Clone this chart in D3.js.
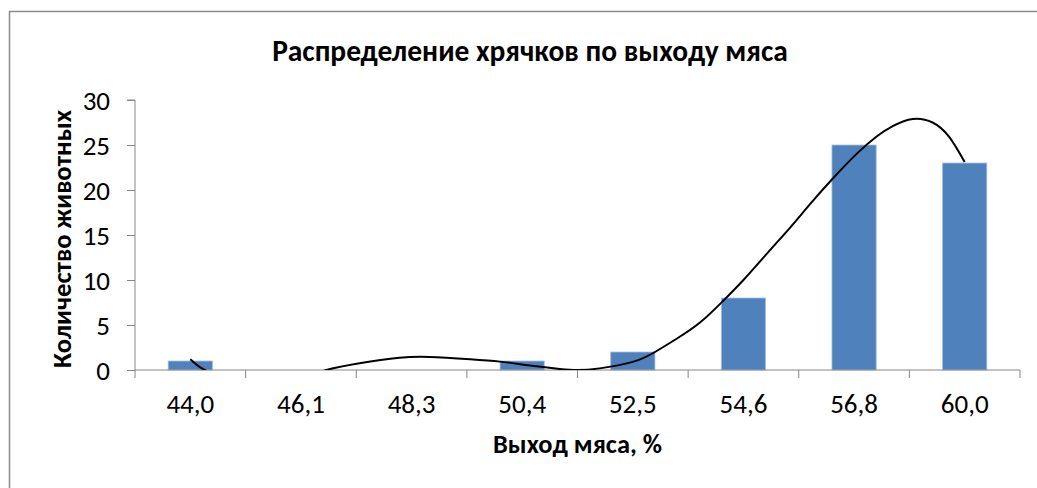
<!DOCTYPE html>
<html>
<head>
<meta charset="utf-8">
<script src="https://cdn.jsdelivr.net/npm/d3@7"></script>
<style>
  body { margin: 0; background: #fff; }
  text { font-family: Carlito, Lato, sans-serif; fill: #000; }
</style>
</head>
<body>
<div id="chart"></div>
<script>
// data
const categories = ["44,0", "46,1", "48,3", "50,4", "52,5", "54,6", "56,8", "60,0"];
const counts = [1, 0, 0, 1, 2, 8, 25, 23];
const yTicks = [0, 5, 10, 15, 20, 25, 30];

// trendline (position in category index 1..8, value)
const trendPos = [1.00, 1.13, 1.35, 1.70, 2.10, 2.23, 2.53, 2.89, 3.16, 3.53, 3.80, 4.07, 4.34, 4.50,
  4.70, 5.00, 5.20, 5.40, 5.61, 5.81, 6.00, 6.21, 6.42, 6.60, 6.81, 7.03, 7.21, 7.35, 7.53, 7.71, 7.86, 8.00];
const trendVal = [1.2, 0, -0.8, -1.1, -0.5, 0, 0.74, 1.35, 1.45, 1.2, 0.93, 0.5, 0.12, 0.0,
  0.18, 0.9, 2.0, 3.5, 5.3, 7.6, 10.0, 12.9, 15.8, 18.4, 21.3, 24.1, 26.0, 27.1, 27.9, 27.5, 25.9, 23.1];

const width = 1037;
const height = 488;
const plot = { left: 135, right: 1020, top: 100, bottom: 370 };
const axisColor = "#868686";

const svg = d3.select('#chart')
  .append('svg')
  .attr('width', width)
  .attr('height', height);

svg.append('rect')
  .attr('width', width).attr('height', height)
  .attr('fill', '#fff');

// chart area border (cropped on the right and bottom)
svg.append('rect')
  .attr('x', 9.5).attr('y', 11.5)
  .attr('width', 1100).attr('height', 600)
  .attr('fill', 'none')
  .attr('stroke', '#8c8c8c')
  .attr('stroke-width', 1.5);

const x = d3.scaleBand()
  .domain(categories)
  .range([plot.left, plot.right])
  .paddingInner(0)
  .paddingOuter(0);

const y = d3.scaleLinear()
  .domain([0, 30])
  .range([plot.bottom, plot.top]);

const barW = x.bandwidth() * 0.4;

// bars
svg.append('g')
  .selectAll('rect')
  .data(counts)
  .join('rect')
  .attr('x', (d, i) => x(categories[i]) + (x.bandwidth() - barW) / 2)
  .attr('y', d => y(d))
  .attr('width', barW)
  .attr('height', d => y(0) - y(d))
  .attr('fill', '#4f81bd')
  .attr('stroke', '#a9c1e0')
  .attr('stroke-width', 0.8);

// y axis
const yAxis = svg.append('g')
  .attr('transform', `translate(${plot.left},0)`)
  .call(d3.axisLeft(y).tickValues(yTicks).tickSize(8).tickPadding(17));
yAxis.select('.domain').attr('stroke', axisColor).attr('d', `M-8,${plot.top}H0V${plot.bottom}`);
yAxis.selectAll('.tick line').attr('stroke', axisColor);
yAxis.selectAll('.tick text')
  .style('font-size', '27px')
  .attr('dy', '0.34em')
  .attr('font-family', 'Carlito, Lato, sans-serif')
  .attr('fill', '#000');

// x axis: line, ticks at band edges, labels at band centres
const xAxis = svg.append('g');
xAxis.append('line')
  .attr('x1', plot.left).attr('x2', plot.right)
  .attr('y1', y(0)).attr('y2', y(0))
  .attr('stroke', axisColor);
const edges = categories.map(c => x(c)).concat([x(categories[categories.length - 1]) + x.bandwidth()]);
xAxis.selectAll('.xtick')
  .data(edges)
  .join('line')
  .attr('class', 'xtick')
  .attr('x1', d => d).attr('x2', d => d)
  .attr('y1', y(0)).attr('y2', y(0) + 8)
  .attr('stroke', axisColor);
xAxis.selectAll('.xlabel')
  .data(categories)
  .join('text')
  .attr('class', 'xlabel')
  .attr('x', d => x(d) + x.bandwidth() / 2)
  .attr('y', y(0) + 43)
  .attr('text-anchor', 'middle')
  .style('font-size', '27px')
  .text(d => d);

// trendline, clipped to the plot area
svg.append('clipPath').attr('id', 'plotclip')
  .append('rect')
  .attr('x', plot.left).attr('y', plot.top)
  .attr('width', plot.right - plot.left)
  .attr('height', plot.bottom - plot.top);

const xPos = d3.scaleLinear()
  .domain([1, categories.length])
  .range([x(categories[0]) + x.bandwidth() / 2, x(categories[categories.length - 1]) + x.bandwidth() / 2]);

const line = d3.line()
  .x(d => xPos(d[0]))
  .y(d => y(d[1]))
  .curve(d3.curveNatural);

svg.append('path')
  .datum(d3.zip(trendPos, trendVal))
  .attr('clip-path', 'url(#plotclip)')
  .attr('d', line)
  .attr('fill', 'none')
  .attr('stroke', '#000')
  .attr('stroke-width', 2);

// titles, sized to the widths seen in the picture
function fitWidth(sel, target) {
  const w = sel.node().getComputedTextLength();
  const fs = parseFloat(sel.attr('font-size'));
  sel.attr('font-size', (fs * target / w).toFixed(2) + 'px');
}

const title = svg.append('text')
  .attr('x', 530).attr('y', 61)
  .attr('text-anchor', 'middle')
  .attr('font-weight', 'bold')
  .attr('font-size', '25px')
  .text('Распределение хрячков по выходу мяса');
fitWidth(title, 516);

const xTitle = svg.append('text')
  .attr('x', (plot.left + plot.right) / 2).attr('y', 453)
  .attr('text-anchor', 'middle')
  .attr('font-weight', 'bold')
  .attr('font-size', '22px')
  .text('Выход мяса, %');
fitWidth(xTitle, 169);

const yTitle = svg.append('text')
  .attr('transform', 'translate(71,239) rotate(-90)')
  .attr('text-anchor', 'middle')
  .attr('font-weight', 'bold')
  .attr('font-size', '22px')
  .text('Количество животных');
fitWidth(yTitle, 258);
</script>
</body>
</html>
